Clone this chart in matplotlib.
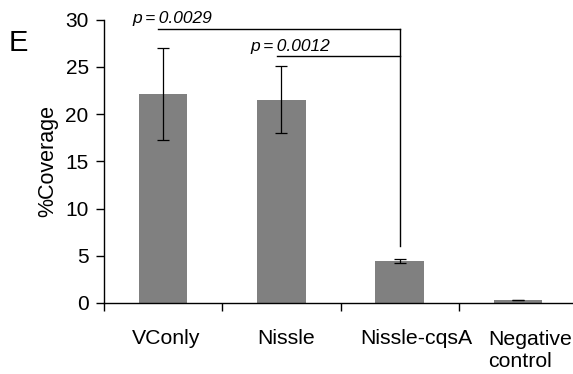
import matplotlib
matplotlib.use("Agg")
import matplotlib.pyplot as plt
import numpy as np
from matplotlib.transforms import ScaledTranslation

plt.rcParams['font.family'] = ['Liberation Sans', 'DejaVu Sans']

categories = ["VConly", "Nissle", "Nissle-cqsA", "Negative\ncontrol"]
coverage = [22.1, 21.5, 4.45, 0.32]
errors = [4.85, 3.55, 0.25, 0.05]
p_labels = ["0.0029", "0.0012"]
bracket_heights = [29.0, 26.1]
bracket_from = [0, 1]
bracket_to = 2
yticks = [0, 5, 10, 15, 20, 25, 30]

fig = plt.figure(figsize=(5.73, 3.74), dpi=100)
ax = fig.add_axes([104/573, 71/374, 473/573, 283.5/374])

x = np.arange(len(categories))
ax.bar(x, coverage, width=0.41, color='#808080', zorder=2)
ax.errorbar(x, coverage, yerr=errors, fmt='none', ecolor='black',
            elinewidth=0.9, capsize=4.5, capthick=0.9, zorder=3)

ax.set_xlim(-0.5, 3.5)
ax.set_ylim(0, 30)
ax.set_yticks(yticks)
ax.set_xticks(np.arange(-0.5, 4.0, 1.0))
ax.set_xticklabels([])
ax.tick_params(axis='x', which='major', length=6, width=1, direction='out')
ax.tick_params(axis='y', length=6, width=1, direction='out', labelsize=15, pad=5)
for s in ['top', 'right']:
    ax.spines[s].set_visible(False)
for s in ['left', 'bottom']:
    ax.spines[s].set_linewidth(1)

# category labels (pixel nudges to match the original layout)
label_dx = [2.5, 5, 17, -30]
label_dy = [-41, -41, -41, -64]
label_ha = ['center', 'center', 'center', 'left']
for xi, lab, dx, dy, ha in zip(x, categories, label_dx, label_dy, label_ha):
    off = ScaledTranslation(dx/100, dy/100, fig.dpi_scale_trans)
    ax.text(xi, 0, lab, transform=ax.get_xaxis_transform() + off,
            ha=ha, va='baseline', fontsize=15.3, linespacing=1.18)

ax.set_ylabel("%Coverage", fontsize=15.5, labelpad=5)

# significance brackets
drop_to = coverage[bracket_to] + errors[bracket_to] + 1.3
for lab, h, i in zip(p_labels, bracket_heights, bracket_from):
    ax.plot([x[i] - 0.04, x[bracket_to]], [h, h], color='black', lw=1, clip_on=False)
    ax.text(x[i] - 0.26, h + 0.6, "p\u2009=\u2009" + lab, fontsize=12.5, style='italic',
            ha='left', va='baseline')
ax.plot([x[bracket_to], x[bracket_to]], [drop_to, bracket_heights[0]],
        color='black', lw=1, clip_on=False)

fig.text(9/573, 1 - 43/374, "E", fontsize=21, ha='left', va='center')

fig.savefig("out.png", dpi=100)
